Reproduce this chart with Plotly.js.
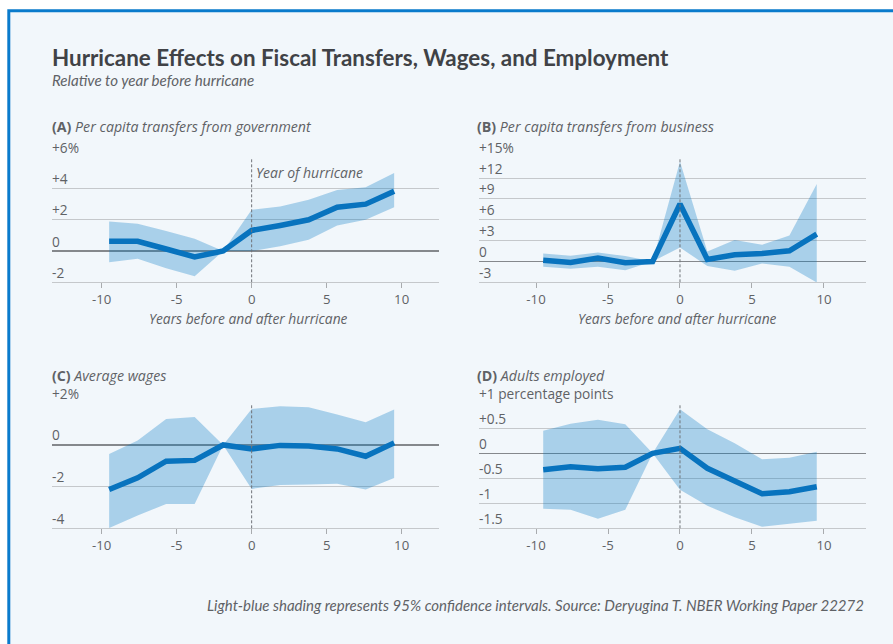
<!DOCTYPE html>
<html>
<head>
<meta charset="utf-8">
<script src="https://cdn.plot.ly/plotly-3.0.1.min.js"></script>
<style>html,body{margin:0;padding:0;background:#fff;}#chart{width:893px;height:644px;}</style>
</head>
<body>
<div id="chart"></div>
<script>
// ---- data ----
const years = [-9.5, -7.6, -5.7, -3.8, -1.9, 0, 1.9, 3.8, 5.7, 7.6, 9.5];

const govEst   = [0.62, 0.62, 0.13, -0.38, 0, 1.32, 1.64, 2.0, 2.81, 3.0, 3.83];
const govUpper = [1.89, 1.74, 1.28, 0.79, 0, 2.64, 2.85, 3.28, 3.91, 4.09, 5.0];
const govLower = [-0.72, -0.49, -1.1, -1.62, 0, 0.0, 0.3, 0.72, 1.64, 2.0, 2.81];

const bizEst   = [0.19, -0.14, 0.48, -0.19, 0, 8.27, 0.29, 0.96, 1.15, 1.54, 3.94];
const bizUpper = [1.15, 0.82, 1.3, 0.77, 0, 14.4, 1.44, 3.08, 2.4, 3.75, 11.15];
const bizLower = [-0.77, -1.06, -0.77, -1.25, 0, 2.02, -0.67, -1.35, -0.29, -0.77, -3.03];

const wageEst   = [-2.14, -1.58, -0.78, -0.74, 0, -0.19, -0.02, -0.05, -0.19, -0.54, 0.1];
const wageUpper = [-0.43, 0.22, 1.25, 1.34, 0, 1.73, 1.86, 1.81, 1.46, 1.09, 1.7];
const wageLower = [-3.98, -3.39, -2.83, -2.83, 0, -2.11, -1.92, -1.9, -1.86, -2.14, -1.58];

const empEst   = [-0.33, -0.27, -0.31, -0.28, 0, 0.1, -0.3, -0.57, -0.81, -0.77, -0.67];
const empUpper = [0.45, 0.59, 0.67, 0.58, 0, 0.88, 0.48, 0.2, -0.12, -0.09, 0.03];
const empLower = [-1.11, -1.13, -1.31, -1.13, 0, -0.73, -1.05, -1.28, -1.47, -1.41, -1.35];

const xTickVals = [-10, -5, 0, 5, 10];
const xTickText = ['-10', '-5', '0', '5', '10'];

const govTickVals = [-2, 0, 2, 4, 6];
const govTickText = ['-2', '0', '+2', '+4', '+6%'];
const bizTickVals = [-3, 0, 3, 6, 9, 12, 15];
const bizTickText = ['-3', '0', '+3', '+6', '+9', '+12', '+15%'];
const wageTickVals = [-4, -2, 0, 2];
const wageTickText = ['-4', '-2', '0', '+2%'];
const empTickVals = [-1.5, -1, -0.5, 0, 0.5, 1];
const empTickText = ['-1.5', '-1', '-0.5', '0', '+0.5', '+1 percentage points'];

const panelLetters = ['(A)', '(B)', '(C)', '(D)'];
const panelNames = ['Per capita transfers from government', 'Per capita transfers from business', 'Average wages', 'Adults employed'];

const titleText = 'Hurricane Effects on Fiscal Transfers, Wages, and Employment';
const subtitleText = 'Relative to year before hurricane';
const xTitleText = 'Years before and after hurricane';
const hurricaneText = 'Year of hurricane';
const footerText = 'Light-blue shading represents 95% confidence intervals. Source: Deryugina T. NBER Working Paper 22272';

// ---- style ----
const W = 893, H = 644;
const LINE = '#0873be';
const BAND = 'rgba(0,118,194,0.30)';
const GRID = '#c5c8cb';
const ZERO = '#85888c';
const TXT = '#5f6266';
const FONT = '"Open Sans", sans-serif';
const FONT2 = 'Lato, sans-serif';

const px = v => v / W;
const py = v => 1 - v / H;

const panels = [
  {est: govEst, up: govUpper, lo: govLower, tv: govTickVals, tt: govTickText, xr: [-13.33, 12.49], yr: [-2, 6],
   xd: [px(51.7), px(439)], yd: [py(282.3), py(157.3)], xtitle: true},
  {est: bizEst, up: bizUpper, lo: bizLower, tv: bizTickVals, tt: bizTickText, xr: [-13.96, 12.92], yr: [-3, 15],
   xd: [px(479), px(866)], yd: [py(282.3), py(157.3)], xtitle: true},
  {est: wageEst, up: wageUpper, lo: wageLower, tv: wageTickVals, tt: wageTickText, xr: [-13.33, 12.49], yr: [-4, 2],
   xd: [px(51.7), px(439)], yd: [py(528.3), py(403.3)], xtitle: false},
  {est: empEst, up: empUpper, lo: empLower, tv: empTickVals, tt: empTickText, xr: [-13.96, 12.92], yr: [-1.5, 1],
   xd: [px(479), px(866)], yd: [py(528.3), py(403.3)], xtitle: false}
];

const traces = [];
const layout = {
  width: W, height: H,
  margin: {l: 0, r: 0, t: 0, b: 0},
  paper_bgcolor: '#ffffff',
  plot_bgcolor: 'rgba(0,0,0,0)',
  showlegend: false,
  shapes: [
    {type: 'rect', xref: 'paper', yref: 'paper', x0: px(8.8), x1: 1.05, y0: -0.05, y1: py(10.7),
     fillcolor: '#f2f7fb', line: {color: '#0a7bcc', width: 3}, layer: 'below'}
  ],
  annotations: [
    {text: titleText, xref: 'paper', yref: 'paper', x: px(50), y: py(57), xanchor: 'left', yanchor: 'middle',
     showarrow: false, font: {family: FONT2, size: 22.4, color: '#404246', weight: 700}},
    {text: '<i>' + subtitleText + '</i>', xref: 'paper', yref: 'paper', x: px(50), y: py(79.5), xanchor: 'left', yanchor: 'middle',
     showarrow: false, font: {family: FONT2, size: 15.1, color: TXT}},
    {text: '<i>' + footerText + '</i>', xref: 'paper', yref: 'paper', x: px(866), y: py(605), xanchor: 'right', yanchor: 'middle',
     showarrow: false, font: {family: FONT2, size: 15, color: TXT}}
  ]
};

const titlePos = [[51.7, 126.7], [477.3, 126.7], [51.7, 375], [477.3, 375]];

panels.forEach((p, i) => {
  const n = i + 1;
  const xa = n === 1 ? 'x' : 'x' + n;
  const ya = n === 1 ? 'y' : 'y' + n;
  const xkey = n === 1 ? 'xaxis' : 'xaxis' + n;
  const ykey = n === 1 ? 'yaxis' : 'yaxis' + n;

  traces.push({
    x: years.concat(years.slice().reverse()),
    y: p.up.concat(p.lo.slice().reverse()),
    xaxis: xa, yaxis: ya, type: 'scatter', mode: 'lines', fill: 'toself',
    fillcolor: BAND, line: {width: 0, color: 'rgba(0,0,0,0)'}, hoverinfo: 'skip'
  });
  traces.push({
    x: years, y: p.est, xaxis: xa, yaxis: ya, type: 'scatter', mode: 'lines',
    line: {color: LINE, width: 5.5}, hoverinfo: 'skip'
  });

  layout[xkey] = {
    domain: p.xd, range: p.xr, anchor: ya, fixedrange: true,
    tickvals: xTickVals, ticktext: xTickText, ticks: 'outside', ticklen: 5, tickcolor: '#a8abae', tickwidth: 1,
    showgrid: false, zeroline: false, showline: true, linecolor: GRID, linewidth: 1,
    tickfont: {family: FONT, size: 13.2, color: TXT}
  };
  layout[ykey] = {
    domain: p.yd, range: p.yr, anchor: xa, fixedrange: true,
    tickvals: p.tv, showticklabels: false, ticks: '',
    showgrid: true, gridcolor: GRID, gridwidth: 1,
    zeroline: true, zerolinecolor: ZERO, zerolinewidth: 1.3, showline: false
  };

  // vertical dashed line at the hurricane year
  layout.shapes.push({type: 'line', xref: xa, yref: ya + ' domain', x0: 0, x1: 0, y0: 0, y1: 1,
    line: {color: '#707378', width: 1, dash: '3px,2px'}, layer: 'above'});

  // y tick labels sitting above the gridlines
  p.tv.forEach((v, k) => {
    layout.annotations.push({text: p.tt[k], xref: xa + ' domain', yref: ya, x: 0, y: v,
      xanchor: 'left', yanchor: 'bottom', xshift: -2, yshift: -1.5, showarrow: false,
      font: {family: FONT, size: 13.7, color: TXT}});
  });

  // panel titles
  layout.annotations.push({text: '<b>' + panelLetters[i] + '</b> <i>' + panelNames[i] + '</i>',
    xref: 'paper', yref: 'paper', x: px(titlePos[i][0]), y: py(titlePos[i][1]), xanchor: 'left', yanchor: 'middle',
    xshift: -2, showarrow: false, font: {family: FONT, size: 14.2, color: TXT}});

  if (p.xtitle) {
    layout.annotations.push({text: '<i>' + xTitleText + '</i>', xref: xa, yref: 'paper', x: -0.2, y: py(317.5),
      xanchor: 'center', yanchor: 'middle', height: 14, borderpad: 0, showarrow: false,
      font: {family: FONT, size: 13.8, color: TXT}});
  }
});

// "Year of hurricane" label in panel A
layout.annotations.push({text: '<i>' + hurricaneText + '</i>', xref: 'x', yref: 'y', x: 0, y: 5.0,
  xanchor: 'left', yanchor: 'middle', xshift: 2, showarrow: false, font: {family: FONT, size: 14, color: TXT}});

Plotly.newPlot('chart', traces, layout, {staticPlot: true, displayModeBar: false});
</script>
</body>
</html>
